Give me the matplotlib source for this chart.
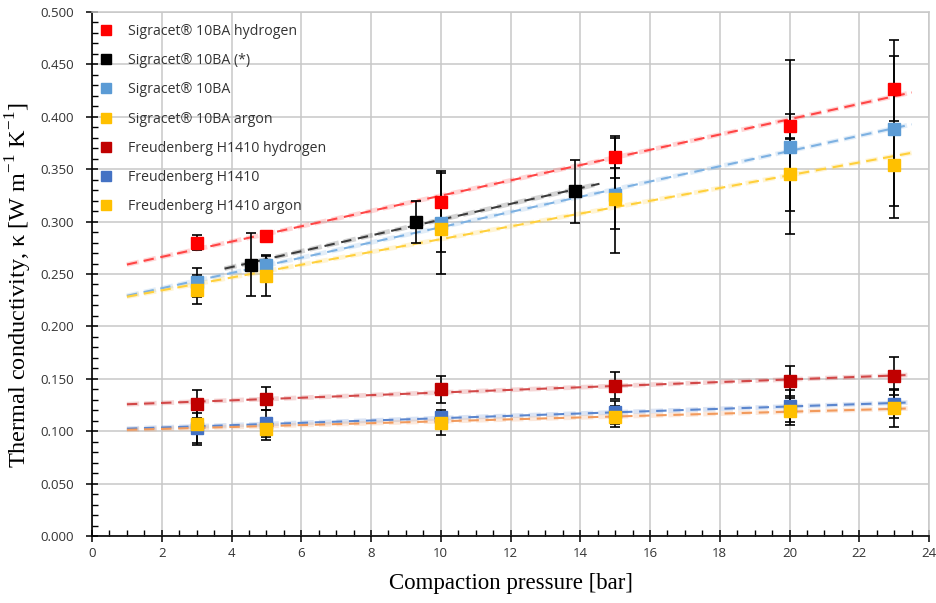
import numpy as np
import matplotlib.pyplot as plt
from matplotlib.lines import Line2D
from matplotlib.ticker import MultipleLocator, FormatStrFormatter

# pressures [bar]
p = [3, 5, 10, 15, 20, 23]
p_star = [4.55, 9.28, 13.85]

# Sigracet 10BA
sig_h2 = [0.280, 0.286, 0.319, 0.362, 0.391, 0.427]
sig_h2_err = [0.007, 0.005, 0.027, 0.020, 0.012, 0.031]
sig_star = [0.259, 0.300, 0.329]
sig_star_err = [0.030, 0.020, 0.030]
sig = [0.242, 0.259, 0.299, 0.325, 0.371, 0.388]
sig_err = [0.014, 0.0095, 0.049, 0.055, 0.083, 0.085]
sig_ar = [0.235, 0.248, 0.293, 0.322, 0.345, 0.354]
sig_ar_err = [0.014, 0.019, 0.022, 0.029, 0.035, 0.039]

# Freudenberg H1410
fr_h2 = [0.126, 0.131, 0.140, 0.1435, 0.148, 0.153]
fr_h2_err = [0.013, 0.011, 0.013, 0.013, 0.0145, 0.018]
fr = [0.103, 0.1075, 0.114, 0.118, 0.124, 0.126]
fr_err = [0.014, 0.013, 0.006, 0.011, 0.015, 0.013]
fr_ar = [0.107, 0.102, 0.1075, 0.114, 0.119, 0.122]
fr_ar_err = [0.020, 0.0105, 0.011, 0.010, 0.013, 0.018]

labels = ['Sigracet® 10BA hydrogen', 'Sigracet® 10BA (*)', 'Sigracet® 10BA',
          'Sigracet® 10BA argon', 'Freudenberg H1410 hydrogen',
          'Freudenberg H1410', 'Freudenberg H1410 argon']

series = [
    (p, sig_h2, sig_h2_err, '#FF0000', '#FF4646', (1, 23.5)),
    (p_star, sig_star, sig_star_err, '#000000', '#3C3C3C', (3.8, 14.55)),
    (p, sig, sig_err, '#5B9BD5', '#7DB1E2', (1, 23.5)),
    (p, sig_ar, sig_ar_err, '#FFC000', '#FFD03C', (1, 23.5)),
    (p, fr_h2, fr_h2_err, '#C00000', '#D24848', (1, 23.5)),
    (p, fr, fr_err, '#4472C4', '#5B86CE', (1, 23.5)),
    (p, fr_ar, fr_ar_err, '#FFC000', '#F29A5C', (1, 23.5)),
]

plt.rcParams['mathtext.fontset'] = 'custom'
plt.rcParams['mathtext.rm'] = 'Liberation Serif'

fig = plt.figure(figsize=(9.37, 6.03), dpi=100)
ax = fig.add_axes([0.0982, 0.1111, 0.8933, 0.8690])

handles = []
for (x, y, e, col, tcol, rng), lab in zip(series, labels):
    # linear trendline
    k, b = np.polyfit(x, y, 1)
    xt = np.array(rng)
    ax.plot(xt, k * xt + b, color=tcol, lw=3.4, alpha=0.22, zorder=2,
            dashes=(2.6, 1.1))
    ax.plot(xt, k * xt + b, color=tcol, lw=1.5, dashes=(5, 3.2), zorder=3)
    ax.errorbar(x, y, yerr=e, fmt='none', ecolor='black', elinewidth=1.2,
                capsize=3.6, capthick=1.2, zorder=4)
    ax.plot(x, y, 's', color=col, ms=9, mec=col, zorder=5)
    handles.append(Line2D([], [], ls='none', marker='s', color=col, ms=7))

ax.set_xlim(0, 24)
ax.set_ylim(0, 0.5)
ax.xaxis.set_major_locator(MultipleLocator(2))
ax.xaxis.set_minor_locator(MultipleLocator(0.5))
ax.yaxis.set_major_locator(MultipleLocator(0.05))
ax.yaxis.set_minor_locator(MultipleLocator(0.01))
ax.yaxis.set_major_formatter(FormatStrFormatter('%.3f'))

ax.grid(True, which='major', color='#C8C8C8', lw=1.1)
ax.set_axisbelow(True)
for s in ['top', 'right']:
    ax.spines[s].set_color('#C8C8C8')
    ax.spines[s].set_linewidth(1.1)
for s in ['left', 'bottom']:
    ax.spines[s].set_color('black')
    ax.spines[s].set_linewidth(1.2)

ax.tick_params(which='major', direction='inout', length=8, width=1.1,
               labelsize=9.5, labelcolor='#333333', pad=4)
ax.tick_params(axis='y', which='major', pad=9)
ax.tick_params(which='minor', direction='in', length=4, width=1.0)
for t in ax.get_xticklabels() + ax.get_yticklabels():
    t.set_family('Open Sans')

ax.set_xlabel('Compaction pressure [bar]', family='Liberation Serif',
              fontsize=16.5, labelpad=9)
ax.set_ylabel(r'Thermal conductivity, κ [W m$^{\mathregular{-1}}$ K$^{\mathregular{-1}}$]',
              family='Liberation Serif', fontsize=17.5)
ax.yaxis.set_label_coords(-0.069, 0.478)

leg = ax.legend(handles, labels, loc='upper left', frameon=False,
                prop={'family': 'Open Sans', 'size': 10.2},
                labelspacing=1.0, handlelength=0.8, handletextpad=1.15,
                borderaxespad=0.3, bbox_to_anchor=(-0.002, 0.996))
for t in leg.get_texts():
    t.set_color('#333333')

fig.savefig('out.png', dpi=100)
